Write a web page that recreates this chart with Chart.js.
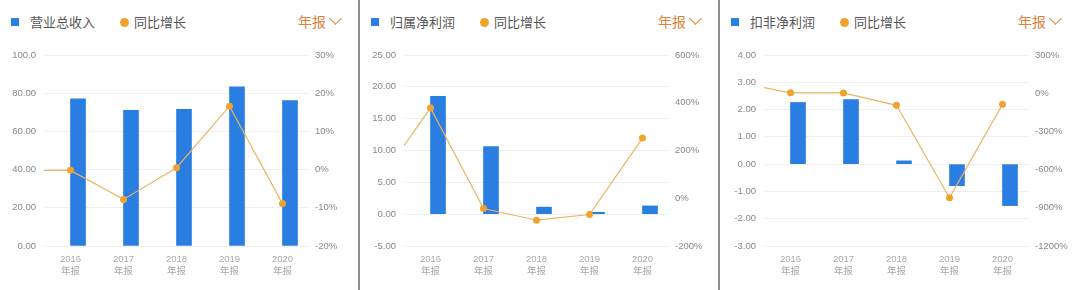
<!DOCTYPE html>
<html>
<head>
<meta charset="utf-8">
<script src="https://cdn.jsdelivr.net/npm/chart.js@4/dist/chart.umd.min.js"></script>
<style>
  body { margin: 0; background: #fff; }
  #wrap { position: relative; width: 1080px; height: 290px; overflow: hidden; background: #fff; }
  .panel { position: absolute; top: 0; height: 290px; }
  .divider { position: absolute; top: 0; width: 2px; height: 290px; background: #8c8c8c; }
  .hdr { position: absolute; top: 0; left: 0; width: 100%; height: 44px;
         font-family: "Noto Sans CJK SC", sans-serif; font-size: 13px; color: #555; }
  .hdr .sq { position: absolute; left: 11px; top: 18px; width: 8px; height: 8px; background: #2a7de1; }
  .hdr .name { position: absolute; left: 30px; top: 12px; line-height: 20px; }
  .hdr .dot { position: absolute; left: 120px; top: 18px; width: 9px; height: 9px; border-radius: 50%; background: #f0a430; }
  .hdr .yoy { position: absolute; left: 134px; top: 12px; line-height: 20px; }
  .hdr .period { position: absolute; left: 298px; top: 11px; line-height: 20px; font-size: 14px; color: #e07f35; }
  .hdr .chev { position: absolute; left: 331px; top: 14px; width: 8px; height: 8px;
               border-right: 1.5px solid #e07f35; border-bottom: 1.5px solid #e07f35; transform: rotate(45deg); }
  canvas { position: absolute; left: 0; top: 0; }
</style>
</head>
<body>
<div id="wrap"></div>
<script>
// categories
const years = ["2016", "2017", "2018", "2019", "2020"];
const periodLabel = "年报";
// growth lines include the prior year (2015) so the line enters from the left edge
const lineYears = [2015, 2016, 2017, 2018, 2019, 2020];

// 营业总收入
const revenue = [77.1, 71.0, 71.5, 83.4, 76.1];
const revenueYoY = [-0.2, -0.2, -7.8, 0.5, 16.6, -8.9];
// 归属净利润
const netProfit = [18.5, 10.6, 1.1, 0.3, 1.3];
const netProfitYoY = [62, 378, -43, -92, -68, 252];
// 扣非净利润
const deductedProfit = [2.26, 2.37, 0.12, -0.79, -1.52];
const deductedYoY = [86, 3, 2, -95, -821, -87];

const panels = [
  { name: "营业总收入", bars: revenue, yoy: revenueYoY, left: 0, width: 358,
    yMin: 0, yMax: 100, yStep: 20, rMin: -20, rMax: 30, rStep: 10 },
  { name: "归属净利润", bars: netProfit, yoy: netProfitYoY, left: 360, width: 358,
    yMin: -5, yMax: 25, yStep: 5, rMin: -200, rMax: 600, rStep: 200 },
  { name: "扣非净利润", bars: deductedProfit, yoy: deductedYoY, left: 720, width: 360,
    yMin: -3, yMax: 4, yStep: 1, rMin: -1200, rMax: 300, rStep: 300 }
];

const tickFont = { family: "Helvetica, 'Liberation Sans', 'Noto Sans CJK SC', sans-serif", size: 9.5 };

function fmtLeft(v) {
  return Math.abs(v) >= 100 ? v.toFixed(1) : v.toFixed(2);
}

const wrap = document.getElementById("wrap");

panels.forEach(function (p, idx) {
  const div = document.createElement("div");
  div.className = "panel";
  div.style.left = p.left + "px";
  div.style.width = p.width + "px";
  div.innerHTML =
    '<div class="hdr"><span class="sq"></span><span class="name">' + p.name + '</span>' +
    '<span class="dot"></span><span class="yoy">同比增长</span>' +
    '<span class="period">' + periodLabel + '</span><span class="chev"></span></div>';
  const canvas = document.createElement("canvas");
  canvas.width = p.width;
  canvas.height = 290;
  canvas.style.width = p.width + "px";
  canvas.style.height = "290px";
  div.appendChild(canvas);
  wrap.appendChild(div);

  if (idx < 2) {
    const d = document.createElement("div");
    d.className = "divider";
    d.style.left = (p.left + p.width) + "px";
    wrap.appendChild(d);
  }

  const lineData = lineYears.map(function (y, i) {
    return { x: y - 2016, y: p.yoy[i] };
  });

  new Chart(canvas.getContext("2d"), {
    data: {
      labels: years.map(function (y) { return [y, periodLabel]; }),
      datasets: [
        {
          type: "line",
          data: lineData,
          xAxisID: "x2",
          yAxisID: "y1",
          borderColor: "#ebb462",
          borderWidth: 1.2,
          pointRadius: 3.5,
          pointBackgroundColor: "#f0a430",
          pointBorderWidth: 0,
          tension: 0,
          order: 0
        },
        {
          type: "bar",
          data: p.bars,
          xAxisID: "x",
          yAxisID: "y",
          backgroundColor: "#2a7de1",
          barThickness: 15,
          order: 1
        }
      ]
    },
    options: {
      responsive: false,
      animation: false,
      devicePixelRatio: 1,
      layout: { padding: { top: 55, left: 0, right: 0, bottom: 0 } },
      plugins: { legend: { display: false }, tooltip: { enabled: false } },
      scales: {
        x: {
          type: "category",
          offset: true,
          grid: { display: false, drawTicks: false },
          border: { display: false },
          ticks: { color: "#a8a8a8", font: tickFont, padding: 8, maxRotation: 0 },
          afterFit: function (s) { s.height = 44; }
        },
        x2: {
          type: "linear",
          display: false,
          min: -0.5,
          max: 4.5
        },
        y: {
          position: "left",
          min: p.yMin,
          max: p.yMax,
          ticks: { stepSize: p.yStep, color: "#888", font: tickFont, padding: 8,
                   callback: function (v) { return fmtLeft(v); } },
          grid: { color: "#efefef", drawTicks: false, lineWidth: 1 },
          border: { display: false },
          afterFit: function (s) { s.width = 44; }
        },
        y1: {
          position: "right",
          min: p.rMin,
          max: p.rMax,
          ticks: { stepSize: p.rStep, color: "#888", font: tickFont, padding: 6,
                   callback: function (v) { return v + "%"; } },
          grid: { display: false, drawTicks: false },
          border: { display: false },
          afterFit: function (s) { s.width = p.width - 309; }
        }
      }
    }
  });
});
</script>
</body>
</html>
